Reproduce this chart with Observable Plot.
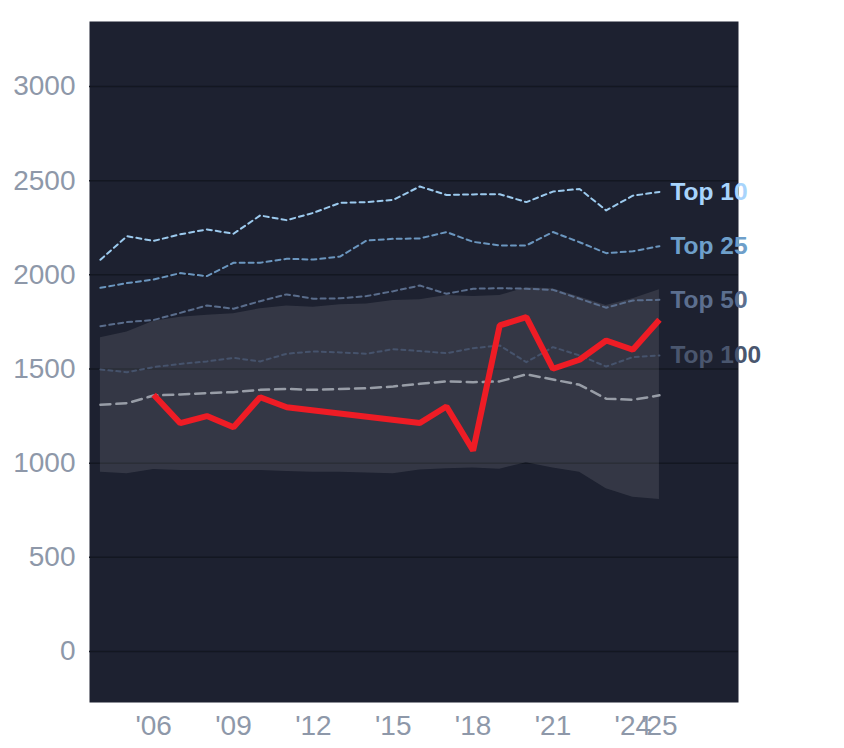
<!DOCTYPE html>
<html>
<head>
<meta charset="utf-8">
<script src="https://cdn.jsdelivr.net/npm/d3@7"></script>
<script src="https://cdn.jsdelivr.net/npm/@observablehq/plot@0.6"></script>
<style>
  html, body { margin: 0; padding: 0; background: #fff; }
</style>
</head>
<body>
<div id="chart"></div>
<script>
const years = [2004, 2005, 2006, 2007, 2008, 2009, 2010, 2011, 2012, 2013, 2014, 2015, 2016, 2017, 2018, 2019, 2020, 2021, 2022, 2023, 2024, 2025];
const top10  = [2080, 2205, 2180, 2215, 2241, 2218, 2315, 2290, 2329, 2382, 2386, 2398, 2469, 2424, 2427, 2428, 2386, 2442, 2456, 2342, 2420, 2440];
const top25  = [1931, 1956, 1975, 2009, 1993, 2064, 2064, 2085, 2081, 2097, 2182, 2191, 2193, 2227, 2175, 2156, 2156, 2227, 2173, 2115, 2125, 2152];
const top50  = [1727, 1749, 1760, 1798, 1837, 1820, 1860, 1896, 1873, 1875, 1887, 1913, 1943, 1899, 1926, 1929, 1926, 1920, 1873, 1825, 1864, 1867];
const top100 = [1497, 1483, 1510, 1527, 1540, 1559, 1540, 1581, 1593, 1588, 1581, 1605, 1595, 1584, 1610, 1625, 1536, 1616, 1572, 1513, 1563, 1572];
const median = [1310, 1318, 1359, 1365, 1372, 1377, 1389, 1394, 1389, 1394, 1398, 1407, 1421, 1434, 1430, 1434, 1471, 1444, 1416, 1342, 1336, 1360];
const bandLow  = [952, 943, 966, 961, 961, 961, 961, 956, 952, 952, 947, 943, 963, 970, 974, 968, 1002, 974, 952, 864, 819, 807];
const bandHigh = [1666, 1696, 1754, 1775, 1785, 1793, 1820, 1834, 1828, 1841, 1845, 1864, 1867, 1890, 1885, 1890, 1931, 1926, 1882, 1837, 1873, 1920];

const redYears  = [2006, 2007, 2008, 2009, 2010, 2011, 2016, 2017, 2018, 2019, 2020, 2021, 2022, 2023, 2024, 2025];
const redValues = [1363, 1212, 1250, 1191, 1350, 1297, 1213, 1301, 1067, 1731, 1775, 1501, 1549, 1651, 1602, 1761];

const xTicks = [2006, 2009, 2012, 2015, 2018, 2021, 2024, 2025];
const yTicks = [0, 500, 1000, 1500, 2000, 2500, 3000];

const seriesNames  = ["Top 10", "Top 25", "Top 50", "Top 100"];
const seriesValues = [top10, top25, top50, top100];
const lineColors   = ["#9ccaee", "#6b96bf", "#5a6d8c", "#46536c"];
const labelColors  = ["#a8d4fc", "#6e9fca", "#5c6f8f", "#4a566e"];
const dashes       = ["5,4", "5,4", "5,4", "4,4"];

const rows = (vals) => years.map((yr, i) => ({year: yr, value: vals[i]}));
const band = years.map((yr, i) => ({year: yr, lo: bandLow[i], hi: bandHigh[i]}));
const red = redYears.map((yr, i) => ({year: yr, value: redValues[i]}));
const labels = seriesNames.map((name, k) => ({
  name, year: years[years.length - 1], value: seriesValues[k][years.length - 1], color: labelColors[k]
}));

const marks = [
  Plot.frame({fill: "#1d2130", stroke: null}),
  Plot.gridY(yTicks, {stroke: "#131721", strokeOpacity: 1, strokeWidth: 1.5}),
  Plot.areaY(band, {x: "year", y1: "lo", y2: "hi", fill: "#ffffff", fillOpacity: 0.1}),
  Plot.lineY(rows(median), {x: "year", y: "value", stroke: "#a3a8b1", strokeWidth: 2.5, strokeDasharray: "10,6", strokeOpacity: 0.9})
];
seriesValues.forEach((vals, k) => {
  marks.push(Plot.lineY(rows(vals), {x: "year", y: "value", stroke: lineColors[k], strokeWidth: 2, strokeDasharray: dashes[k]}));
});
marks.push(
  Plot.lineY(red, {x: "year", y: "value", stroke: "#ee1c25", strokeWidth: 6, strokeLinejoin: "miter", strokeLinecap: "butt"}),
  Plot.text(labels, {x: "year", y: "value", text: "name", fill: "color", dx: 11, textAnchor: "start", fontWeight: "bold", fontSize: 24.5}),
  Plot.axisX(xTicks, {tickSize: 0, tickPadding: 13, fontSize: 28, tickFormat: d => "'" + String(d).slice(2), label: null}),
  Plot.axisY(yTicks, {tickSize: 0, tickPadding: 14, fontSize: 28, tickFormat: d => String(d), label: null})
);

const chart = Plot.plot({
  width: 844,
  height: 748,
  marginLeft: 89,
  marginRight: 106,
  marginTop: 21,
  marginBottom: 46,
  style: {background: "#ffffff", color: "#8e98a9", fontFamily: "'Liberation Sans', Arial, sans-serif"},
  x: {domain: [2003.59, 2027.97]},
  y: {domain: [-271, 3345]},
  marks
});
document.getElementById("chart").appendChild(chart);
</script>
</body>
</html>
